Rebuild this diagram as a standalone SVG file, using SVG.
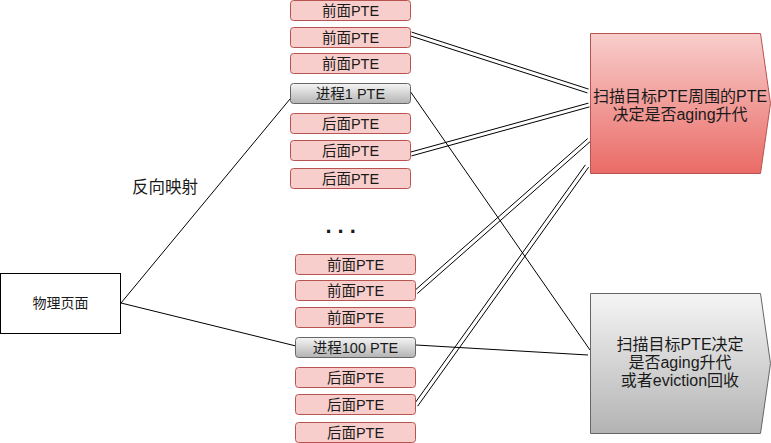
<svg xmlns="http://www.w3.org/2000/svg" width="771" height="443" viewBox="0 0 771 443">
<defs>
<linearGradient id="gRed" x1="0" y1="0" x2="0" y2="1"><stop offset="0" stop-color="#f8cecc"/><stop offset="1" stop-color="#ea6b66"/></linearGradient>
<linearGradient id="gGray" x1="0" y1="0" x2="0" y2="1"><stop offset="0" stop-color="#f5f5f5"/><stop offset="1" stop-color="#b3b3b3"/></linearGradient>
<style>
text{font-family:"Liberation Sans","Noto Sans CJK SC",sans-serif;fill:#1a1a1a;text-anchor:middle}
.pte{fill:#f8cecc;stroke:#b85450;stroke-width:1}
.proc{fill:url(#gGray);stroke:#666666;stroke-width:1}
.t{font-size:14.5px}
.big{font-size:16px}
.ln{fill:none;stroke:#000;stroke-width:1}
</style>
</defs>
<g id="connectors">
<path class="ln" d="M121,303 L290,99"/>
<path class="ln" d="M121,303 L296,346"/>
<path class="ln" d="M410,91 L590,350"/>
<path class="ln" d="M416,345 L588,355"/>
<path class="ln" d="M411.6,32.1 L588.6,89.1 M410.4,35.9 L587.4,92.9"/>
<path class="ln" d="M410.5,152.1 L588.5,103.1 M411.5,155.9 L589.5,106.9"/>
<path class="ln" d="M414.7,290.5 L587.7,138.5 M417.3,293.5 L590.3,141.5"/>
<path class="ln" d="M414.4,403.8 L585.4,164.8 M417.6,406.2 L588.6,167.2"/>
</g>
<g id="page">
<rect x="0.5" y="273.5" width="120" height="60" fill="#fff" stroke="#000"/>
<text class="t" x="60.5" y="308" style="font-size:14px">物理页面</text>
</g>
<g id="label-rmap"><text x="165" y="193" style="font-size:16.5px">反向映射</text></g>
<g id="top-group">
<g id="t1"><rect class="pte" x="290.5" y="0.5" width="120" height="20" rx="3"/><text class="t" x="350.5" y="15.5">前面PTE</text></g>
<g id="t2"><rect class="pte" x="290.5" y="27.5" width="120" height="20" rx="3"/><text class="t" x="350.5" y="42.5">前面PTE</text></g>
<g id="t3"><rect class="pte" x="290.5" y="53.5" width="120" height="20" rx="3"/><text class="t" x="350.5" y="68.5">前面PTE</text></g>
<g id="p1"><rect class="proc" x="290.5" y="83.5" width="120" height="20" rx="3"/><text class="t" x="350.5" y="98.5">进程1 PTE</text></g>
<g id="t4"><rect class="pte" x="290.5" y="113.5" width="120" height="20" rx="3"/><text class="t" x="350.5" y="128.5">后面PTE</text></g>
<g id="t5"><rect class="pte" x="290.5" y="140.5" width="120" height="20" rx="3"/><text class="t" x="350.5" y="155.5">后面PTE</text></g>
<g id="t6"><rect class="pte" x="290.5" y="168.5" width="120" height="20" rx="3"/><text class="t" x="350.5" y="183.5">后面PTE</text></g>
</g>
<g id="dots"><text x="325.5" y="233" style="font-size:22px;font-weight:bold;letter-spacing:6px;text-anchor:start">...</text></g>
<g id="bottom-group">
<g id="b1"><rect class="pte" x="295.5" y="254.5" width="120" height="20" rx="3"/><text class="t" x="355.5" y="269.5">前面PTE</text></g>
<g id="b2"><rect class="pte" x="295.5" y="280.5" width="120" height="20" rx="3"/><text class="t" x="355.5" y="295.5">前面PTE</text></g>
<g id="b3"><rect class="pte" x="295.5" y="307.5" width="120" height="20" rx="3"/><text class="t" x="355.5" y="322.5">前面PTE</text></g>
<g id="p100"><rect class="proc" x="295.5" y="337.5" width="120" height="20" rx="3"/><text class="t" x="355.5" y="352.5">进程100 PTE</text></g>
<g id="b4"><rect class="pte" x="295.5" y="367.5" width="120" height="20" rx="3"/><text class="t" x="355.5" y="382.5">后面PTE</text></g>
<g id="b5"><rect class="pte" x="295.5" y="394.5" width="120" height="20" rx="3"/><text class="t" x="355.5" y="409.5">后面PTE</text></g>
<g id="b6"><rect class="pte" x="295.5" y="422.5" width="120" height="20" rx="3"/><text class="t" x="355.5" y="437.5">后面PTE</text></g>
</g>
<g id="scan-red">
<polygon points="590.5,33.5 760.5,33.5 770.5,103.5 760.5,173.5 590.5,173.5" fill="url(#gRed)" stroke="#b85450"/>
<text class="big" x="680" y="101.5">扫描目标PTE周围的PTE</text>
<text class="big" x="680" y="120">决定是否aging升代</text>
</g>
<g id="scan-gray">
<polygon points="590.5,293.5 760.5,293.5 770.5,363.5 760.5,433.5 590.5,433.5" fill="url(#gGray)" stroke="#666666"/>
<text class="big" x="680" y="350">扫描目标PTE决定</text>
<text class="big" x="680" y="368">是否aging升代</text>
<text class="big" x="680" y="386">或者eviction回收</text>
</g>
</svg>
